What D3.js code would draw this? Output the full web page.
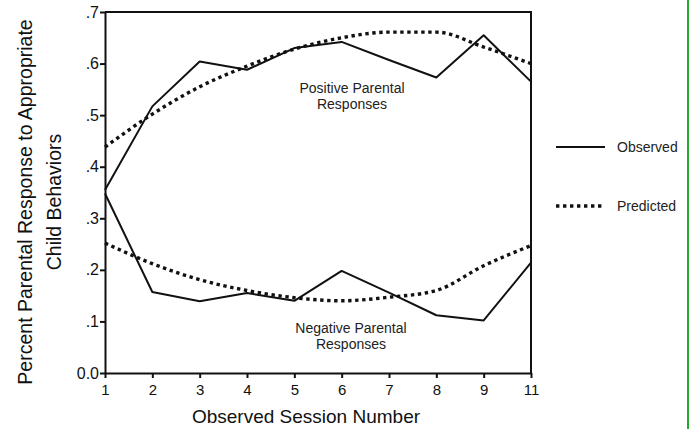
<!DOCTYPE html>
<html>
<head>
<meta charset="utf-8">
<script src="https://cdn.jsdelivr.net/npm/d3@7"></script>
<style>
  body { margin: 0; background: #fff; }
  svg { display: block; font-family: "Liberation Sans", Arial, sans-serif; }
  .tick text { fill: #111; }
  .domain, .tick line { stroke: #111; stroke-width: 2; }
</style>
</head>
<body>
<div id="chart"></div>
<script>
// sessions (there is no session 10 on the axis)
var sessions = ['1', '2', '3', '4', '5', '6', '7', '8', '9', '11'];
var posObserved  = [0.355, 0.517, 0.604, 0.588, 0.630, 0.642, 0.607, 0.573, 0.655, 0.565];
var posPredicted = [0.438, 0.502, 0.555, 0.595, 0.628, 0.650, 0.661, 0.661, 0.632, 0.600];
var negObserved  = [0.348, 0.157, 0.139, 0.155, 0.140, 0.198, 0.156, 0.112, 0.102, 0.214];
var negPredicted = [0.252, 0.212, 0.181, 0.160, 0.146, 0.140, 0.147, 0.160, 0.208, 0.247];
var yTicks = [0, 0.1, 0.2, 0.3, 0.4, 0.5, 0.6, 0.7];

var width = 690, height = 429;
var margin = {top: 12, right: 159, bottom: 56, left: 105};
var plotW = width - margin.left - margin.right;
var plotH = height - margin.top - margin.bottom;

var svg = d3.select('#chart').append('svg')
    .attr('width', width)
    .attr('height', height);

var g = svg.append('g')
    .attr('transform', 'translate(' + margin.left + ',' + margin.top + ')');

var x = d3.scalePoint().domain(sessions).range([0, plotW]);
var y = d3.scaleLinear().domain([0, 0.7]).range([plotH, 0]);

// frame: top and right edges
g.append('path')
    .attr('d', 'M0,0H' + plotW + 'V' + plotH)
    .attr('fill', 'none')
    .attr('stroke', '#111')
    .attr('stroke-width', 2);

g.append('g')
    .attr('transform', 'translate(0,' + plotH + ')')
    .call(d3.axisBottom(x).tickSize(5).tickSizeOuter(0).tickPadding(6))
    .selectAll('text').style('font-size', '15px');

g.append('g')
    .call(d3.axisLeft(y).tickValues(yTicks).tickSize(5).tickSizeOuter(0).tickPadding(1)
      .tickFormat(function(d) { return d === 0 ? '0.0' : d3.format('.1f')(d).replace(/^0/, ''); }))
    .selectAll('text').style('font-size', '16px');

var line = d3.line()
    .x(function(d, i) { return x(sessions[i]); })
    .y(function(d) { return y(d); });

var smooth = d3.line()
    .x(function(d, i) { return x(sessions[i]); })
    .y(function(d) { return y(d); })
    .curve(d3.curveMonotoneX);

var solid = {width: 2, dash: null};
var dotted = {width: 3.4, dash: '3.4,3.6'};

[[posObserved, line, solid], [negObserved, line, solid],
 [posPredicted, smooth, dotted], [negPredicted, smooth, dotted]].forEach(function(s) {
  g.append('path')
      .datum(s[0])
      .attr('fill', 'none')
      .attr('stroke', '#111')
      .attr('stroke-width', s[2].width)
      .attr('stroke-dasharray', s[2].dash)
      .attr('stroke-linejoin', 'round')
      .attr('d', s[1]);
});

// series labels inside the plot
var labels = [
  {lines: ['Positive Parental', 'Responses'], cx: 352, y0: 93},
  {lines: ['Negative Parental', 'Responses'], cx: 351, y0: 333}
];
labels.forEach(function(l) {
  l.lines.forEach(function(t, i) {
    svg.append('text')
        .attr('x', l.cx)
        .attr('y', l.y0 + i * 16)
        .attr('text-anchor', 'middle')
        .style('font-size', '14px')
        .style('fill', '#222')
        .text(t);
  });
});

// axis titles
svg.append('text')
    .attr('x', 306)
    .attr('y', 423)
    .attr('text-anchor', 'middle')
    .style('font-size', '19px')
    .style('fill', '#111')
    .text('Observed Session Number');

var yTitle = svg.append('text')
    .attr('transform', 'translate(32,202) rotate(-90)')
    .attr('text-anchor', 'middle')
    .style('font-size', '19.5px')
    .style('fill', '#111');
yTitle.append('tspan').attr('x', 0).attr('dy', 0).text('Percent Parental Response to Appropriate');
yTitle.append('tspan').attr('x', 0).attr('dy', 29).text('Child Behaviors');

// legend
var legend = [{name: 'Observed', style: solid, y: 147}, {name: 'Predicted', style: dotted, y: 206}];
legend.forEach(function(d) {
  svg.append('line')
      .attr('x1', 556).attr('x2', 605)
      .attr('y1', d.y).attr('y2', d.y)
      .attr('stroke', '#111')
      .attr('stroke-width', d.style.width)
      .attr('stroke-dasharray', d.style.dash);
  svg.append('text')
      .attr('x', 617)
      .attr('y', d.y + 5)
      .style('font-size', '14px')
      .style('fill', '#222')
      .text(d.name);
});

// green border at the right edge
svg.append('line')
    .attr('x1', 688).attr('x2', 688)
    .attr('y1', 0).attr('y2', height)
    .attr('stroke', '#22aa33')
    .attr('stroke-width', 2);
</script>
</body>
</html>
